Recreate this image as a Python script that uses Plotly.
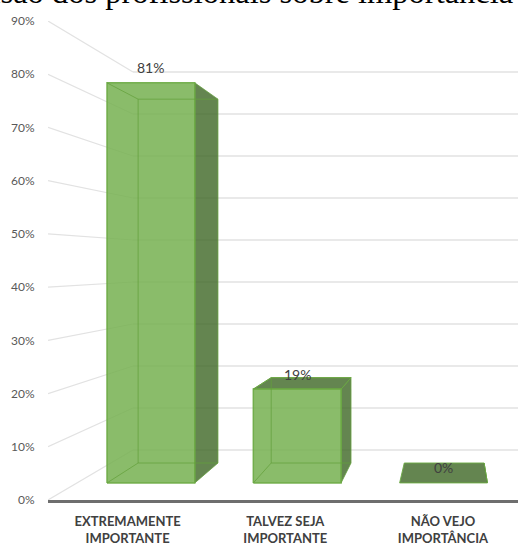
import plotly.graph_objects as go

# Chart data
categories = ["EXTREMAMENTE<br>IMPORTANTE", "TALVEZ SEJA<br>IMPORTANTE", "NÃO VEJO<br>IMPORTÂNCIA"]
values = [81, 19, 0]
axis_ticks = [0, 10, 20, 30, 40, 50, 60, 70, 80, 90]
title_text = "Visão dos profissionais sobre importância"

# Perspective set-up: horizon and vanishing point in axis units, depth as a scale factor
HORIZON = 44.55
VANISH_X = 2.05
DEPTH_WALL = 0.789
DEPTH_FRONT = 0.928
DEPTH_BACK = 0.844
BAR_HALF = 0.30
X_MIN, X_MAX = -0.505, 2.476

FACE_EDGE = "rgba(108,170,68,0.9)"
INNER_EDGE = "rgba(100,160,60,0.75)"
FRONT_FILL = "rgba(118,176,80,0.85)"
DARK_FILL = "rgba(66,106,42,0.82)"
GRID = "#e2e2e2"


def project(x, v, depth):
    """Map a point on the chart plane at a given depth onto the flat axes."""
    return VANISH_X + depth * (x - VANISH_X), HORIZON + depth * (v - HORIZON)


def polygon(points, fill=None, edge=None, width=1.0):
    xs = [p[0] for p in points]
    ys = [p[1] for p in points]
    if fill:
        xs.append(xs[0])
        ys.append(ys[0])
    return go.Scatter(
        x=xs, y=ys, mode="lines",
        fill="toself" if fill else None,
        fillcolor=fill,
        line=dict(color=edge or "rgba(0,0,0,0)", width=width),
        hoverinfo="skip", showlegend=False,
    )


fig = go.Figure()

# Wall gridlines: a diagonal from each axis label, then across the back wall
for tick in axis_ticks:
    fig.add_trace(polygon([project(X_MIN, tick, 1.0), project(X_MIN, tick, DEPTH_WALL)], edge=GRID, width=1.2))
    fig.add_trace(polygon([project(X_MIN, tick, DEPTH_WALL), (X_MAX, project(X_MIN, tick, DEPTH_WALL)[1])], edge=GRID, width=1.5))

# Bars in perspective
for i, value in enumerate(values):
    left, right = i - BAR_HALF, i + BAR_HALF
    fl_b, fr_b = project(left, 0, DEPTH_FRONT), project(right, 0, DEPTH_FRONT)
    fl_t, fr_t = project(left, value, DEPTH_FRONT), project(right, value, DEPTH_FRONT)
    bl_b, br_b = project(left, 0, DEPTH_BACK), project(right, 0, DEPTH_BACK)
    bl_t, br_t = project(left, value, DEPTH_BACK), project(right, value, DEPTH_BACK)

    fig.add_trace(polygon([fr_b, br_b, br_t, fr_t], fill=DARK_FILL, edge=INNER_EDGE))
    # The top face only shows when the bar ends below the horizon
    if value < HORIZON:
        fig.add_trace(polygon([fl_t, fr_t, br_t, bl_t], fill=DARK_FILL, edge=FACE_EDGE))
    if value > 0:
        fig.add_trace(polygon([fl_b, fr_b, fr_t, fl_t], fill=FRONT_FILL, edge=FACE_EDGE, width=1.5))
        # Hidden edges showing through the translucent faces
        fig.add_trace(polygon([bl_b, br_b], edge=INNER_EDGE))
        fig.add_trace(polygon([bl_b, bl_t, br_t], edge=INNER_EDGE))
        fig.add_trace(polygon([fl_b, bl_b], edge=INNER_EDGE))
        fig.add_trace(polygon([fl_t, bl_t], edge=INNER_EDGE))

# Value labels sit above the middle of each front top edge
value_labels = []
for i, v in enumerate(values):
    lx, ly = project(i, v, DEPTH_FRONT)
    value_labels.append(dict(
        x=lx, y=ly, xref="x", yref="y", text=f"{v}%", showarrow=False,
        yanchor="middle", xanchor="center", yshift=15,
        font=dict(family="Lato", size=14, color="#404040"),
    ))

fig.update_layout(
    width=518, height=544,
    margin=dict(l=48, r=0, t=21, b=44, autoexpand=False),
    paper_bgcolor="white", plot_bgcolor="white",
    showlegend=False,
    xaxis=dict(
        range=[X_MIN, X_MAX], tickmode="array", tickvals=list(range(len(categories))),
        ticktext=[f"<b>{c}</b>" for c in categories],
        tickfont=dict(family="Lato", size=13, color="#404040"),
        showgrid=False, zeroline=False, showline=True, linecolor="#6e6e6e", linewidth=2.5,
        ticks="outside", ticklen=8, tickcolor="rgba(0,0,0,0)",
    ),
    yaxis=dict(
        range=[0, 90], tickmode="array", tickvals=axis_ticks,
        ticktext=[f"{t}%" for t in axis_ticks],
        tickfont=dict(family="Lato", size=12, color="#595959"),
        showgrid=False, zeroline=False, showline=False,
        ticks="outside", ticklen=10, tickcolor="rgba(0,0,0,0)",
    ),
    annotations=value_labels + [dict(
        text=title_text, xref="paper", yref="paper", x=0.412, y=1,
        yanchor="bottom", xanchor="center", yshift=9, showarrow=False,
        font=dict(family="Liberation Serif", size=32.5, color="black"),
    )],
)

fig.write_html("out.html")
